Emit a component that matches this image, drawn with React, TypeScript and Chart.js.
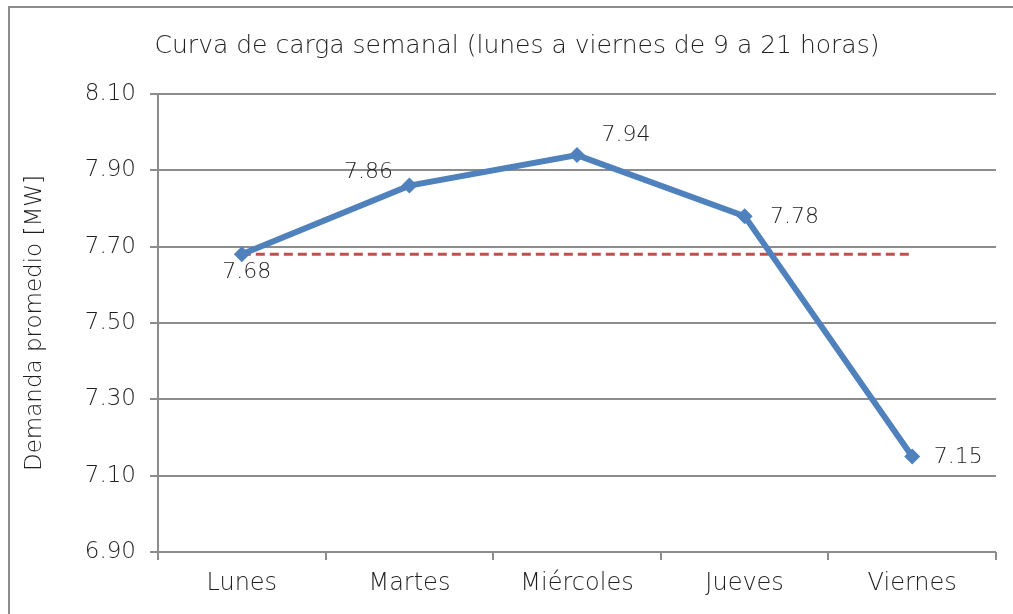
import React, { useEffect, useRef } from "react";
import { Chart, registerables } from "chart.js";

Chart.register(...registerables);

const categories = ["Lunes", "Martes", "Miércoles", "Jueves", "Viernes"];
const demanda = [7.68, 7.86, 7.94, 7.78, 7.15];
const referencia = [7.68, 7.68, 7.68, 7.68, 7.68];
const yTicks = [6.9, 7.1, 7.3, 7.5, 7.7, 7.9, 8.1];
const titleText = "Curva de carga semanal (lunes a viernes de 9 a 21 horas)";
const yTitle = "Demanda promedio [MW]";

const FONT = "'DejaVu Sans'";
const W = "200";
const TXT = "#1f1f1f";
const labelOffsets = [
  [5, 18],
  [-41, -13],
  [49, -20],
  [50, 1],
  [46, 1],
];

export default function App() {
  const ref = useRef<HTMLCanvasElement | null>(null);
  useEffect(() => {
    if (!ref.current) return;
    const extras = {
      id: "extras",
      afterDatasetsDraw(chart: any) {
        const ctx = chart.ctx;
        ctx.save();
        ctx.fillStyle = TXT;
        ctx.textAlign = "center";
        ctx.textBaseline = "middle";
        ctx.font = `${W} 22px ${FONT}`;
        const meta = chart.getDatasetMeta(0);
        meta.data.forEach((pt: any, i: number) => {
          const [dx, dy] = labelOffsets[i];
          ctx.fillText(demanda[i].toFixed(2), pt.x + dx, pt.y + dy);
        });
        ctx.font = `${W} 25px ${FONT}`;
        ctx.fillText(titleText, 517, 46);
        ctx.restore();
      },
      beforeDraw(chart: any) {
        const ctx = chart.ctx;
        ctx.save();
        ctx.strokeStyle = "#8c8c8c";
        ctx.lineWidth = 2;
        ctx.beginPath();
        ctx.moveTo(9, 620);
        ctx.lineTo(9, 7);
        ctx.lineTo(1020, 7);
        ctx.stroke();
        ctx.restore();
      },
    };
    const chart = new Chart(ref.current, {
      type: "line",
      data: {
        labels: categories,
        datasets: [
          {
            data: demanda,
            borderColor: "#4F81BD",
            backgroundColor: "#4F81BD",
            borderWidth: 6,
            pointStyle: "rectRot",
            pointRadius: 8,
            pointBorderWidth: 0,
            tension: 0,
          },
          {
            data: referencia,
            borderColor: "#C0504D",
            borderWidth: 3,
            borderDash: [9, 5],
            pointRadius: 0,
            tension: 0,
          },
        ],
      },
      plugins: [extras],
      options: {
        animation: false,
        responsive: false,
        layout: { padding: { top: 94, right: 17, left: 0, bottom: 0 } },
        plugins: {
          legend: { display: false },
          tooltip: { enabled: false },
          title: { display: false },
        },
        scales: {
          x: {
            offset: true,
            grid: {
              offset: true,
              drawOnChartArea: false,
              drawTicks: true,
              tickLength: 8,
              color: "#8c8c8c",
              lineWidth: 2,
            },
            border: { display: false },
            ticks: {
              color: TXT,
              font: { family: FONT, size: 24, weight: W },
              padding: 9,
            },
            afterFit(s: any) {
              s.height = 62;
            },
          },
          y: {
            min: 6.9,
            max: 8.1,
            afterBuildTicks(s: any) {
              s.ticks = yTicks.map((v) => ({ value: v }));
            },
            grid: {
              color: "#8c8c8c",
              lineWidth: 2,
              tickLength: 8,
            },
            border: { display: true, color: "#8c8c8c", width: 2 },
            ticks: {
              color: TXT,
              font: { family: FONT, size: 23, weight: W },
              padding: 14,
              callback: (v: any) => Number(v).toFixed(2),
            },
            title: {
              display: true,
              text: yTitle,
              color: TXT,
              font: { family: FONT, size: 23, weight: W },
              padding: { top: 21, bottom: 0 },
            },
            afterFit(s: any) {
              s.width = 158;
            },
          },
        },
      },
    });
    return () => chart.destroy();
  }, []);
  return (
    <div style={{ position: "fixed", left: 0, top: 0, width: 1013, height: 614, background: "#fff" }}>
      <canvas ref={ref} width={1013} height={614} style={{ width: 1013, height: 614 }} />
    </div>
  );
}
